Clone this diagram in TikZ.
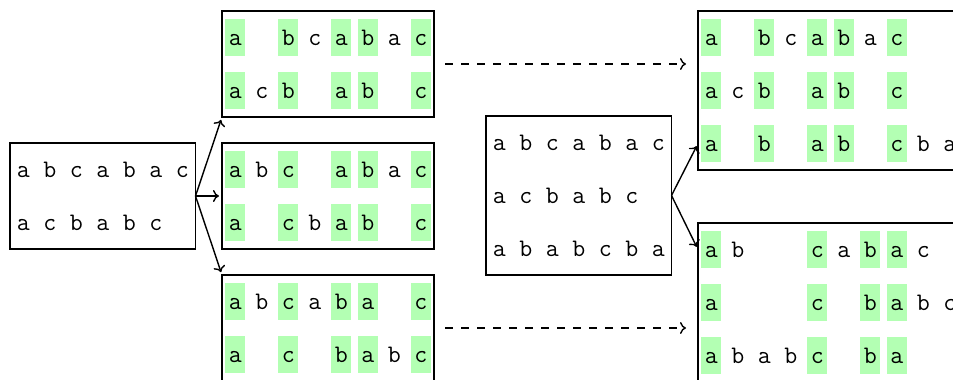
\documentclass[tikz,border=0pt]{standalone}
\usetikzlibrary{arrows.meta}
\definecolor{hl}{RGB}{179,255,179}
\tikzset{
  box/.style={draw, line width=0.7pt, inner sep=0pt, outer sep=0pt, anchor=north west},
  cellp/.style={inner sep=0pt, outer sep=0pt, minimum width=10pt, text height=13pt, text depth=5.5pt, font=\fontsize{12.6}{15}\selectfont\ttfamily},
  cellg/.style={cellp, fill=hl},
  arr/.style={line width=0.7pt, -{To[length=3pt,width=6pt]}, shorten >=1.5pt},
  darr/.style={arr, dash pattern=on 4pt off 4pt, shorten <=5.5pt, shorten >=6pt},
}
\newcommand{\cellrow}[5]{%
  \foreach \st/\tx [count=\i from 0] in {#5}{%
    \if\st e\else
      \node[cell\st] (#1-#4-\i) at ({#2+26.5*(\i+0.5)},{#3+53*(#4+0.5)}) {\tx};
    \fi}}
\begin{document}
\begin{tikzpicture}[x=0.5pt,y=-0.5pt]
\useasboundingbox (0,0) rectangle (953,380);
\clip (0,0) rectangle (953,380);
% boxes
\node[box, minimum width=92.75pt, minimum height=53pt] (B1) at (10,143) {};
\node[box, minimum width=106pt, minimum height=53pt] (B2) at (222,11) {};
\node[box, minimum width=106pt, minimum height=53pt] (B3) at (222,143) {};
\node[box, minimum width=106pt, minimum height=53pt] (B4) at (222,275) {};
\node[box, minimum width=92.75pt, minimum height=79.5pt] (B5) at (486,116) {};
\node[box, minimum width=132.5pt, minimum height=79.5pt] (B6) at (698,11) {};
\node[box, minimum width=132.5pt, minimum height=79.5pt] (B7) at (698,223) {};
% box 1
\cellrow{B1}{10}{143}{0}{p/a,p/b,p/c,p/a,p/b,p/a,p/c}
\cellrow{B1}{10}{143}{1}{p/a,p/c,p/b,p/a,p/b,p/c}
% box 2
\cellrow{B2}{222}{11}{0}{g/a,e/x,g/b,p/c,g/a,g/b,p/a,g/c}
\cellrow{B2}{222}{11}{1}{g/a,p/c,g/b,e/x,g/a,g/b,e/x,g/c}
% box 3
\cellrow{B3}{222}{143}{0}{g/a,p/b,g/c,e/x,g/a,g/b,p/a,g/c}
\cellrow{B3}{222}{143}{1}{g/a,e/x,g/c,p/b,g/a,g/b,e/x,g/c}
% box 4
\cellrow{B4}{222}{275}{0}{g/a,p/b,g/c,p/a,g/b,g/a,e/x,g/c}
\cellrow{B4}{222}{275}{1}{g/a,e/x,g/c,e/x,g/b,g/a,p/b,g/c}
% box 5
\cellrow{B5}{486}{116}{0}{p/a,p/b,p/c,p/a,p/b,p/a,p/c}
\cellrow{B5}{486}{116}{1}{p/a,p/c,p/b,p/a,p/b,p/c}
\cellrow{B5}{486}{116}{2}{p/a,p/b,p/a,p/b,p/c,p/b,p/a}
% box 6
\cellrow{B6}{698}{11}{0}{g/a,e/x,g/b,p/c,g/a,g/b,p/a,g/c}
\cellrow{B6}{698}{11}{1}{g/a,p/c,g/b,e/x,g/a,g/b,e/x,g/c}
\cellrow{B6}{698}{11}{2}{g/a,e/x,g/b,e/x,g/a,g/b,e/x,g/c,p/b,p/a}
% box 7
\cellrow{B7}{698}{223}{0}{g/a,p/b,e/x,e/x,g/c,p/a,g/b,g/a,p/c}
\cellrow{B7}{698}{223}{1}{g/a,e/x,e/x,e/x,g/c,e/x,g/b,g/a,p/b,p/c}
\cellrow{B7}{698}{223}{2}{g/a,p/b,p/a,p/b,g/c,e/x,g/b,g/a}
% connectors
\draw[arr] (B1.east) -- (B2.south west);
\draw[arr] (B1.east) -- (B3.west);
\draw[arr] (B1.east) -- (B4.north west);
\draw[darr] (B2.east) -- (B2.east -| B6.west);
\draw[darr] (B4.east) -- (B4.east -| B7.west);
\draw[arr] (B5.east) -- (B6-2-0 -| B6.west);
\draw[arr] (B5.east) -- (B7-0-0 -| B7.west);
\end{tikzpicture}
\end{document}
